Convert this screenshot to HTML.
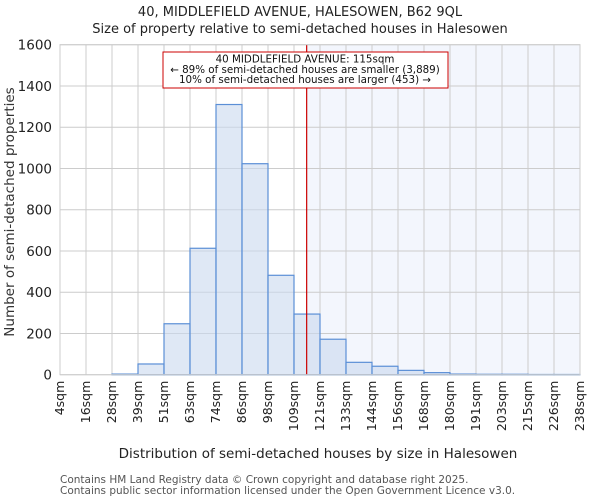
<!DOCTYPE html>
<html><head><meta charset="utf-8"><style>
body{margin:0;background:#fff;font-family:"DejaVu Sans","Liberation Sans",sans-serif}
</style></head><body>
<svg width="600" height="500" xmlns="http://www.w3.org/2000/svg" font-family="DejaVu Sans, Liberation Sans, sans-serif">
<text x="300" y="16" text-anchor="middle" font-size="13" fill="#222">40, MIDDLEFIELD AVENUE, HALESOWEN, B62 9QL</text>
<text x="300" y="33" text-anchor="middle" font-size="13" fill="#222">Size of property relative to semi-detached houses in Halesowen</text>
<g id="plot"></g>
<text x="318" y="458" text-anchor="middle" font-size="13.5" fill="#222">Distribution of semi-detached houses by size in Halesowen</text>
<text transform="translate(14,212) rotate(-90)" text-anchor="middle" font-size="13.5" fill="#333">Number of semi-detached properties</text>
<text x="60" y="483" font-size="10.5" fill="#555">Contains HM Land Registry data © Crown copyright and database right 2025.</text>
<text x="60" y="494" font-size="10.5" fill="#555">Contains public sector information licensed under the Open Government Licence v3.0.</text>
</svg>
<script>
const binEdges=[4,16,28,39,51,63,74,86,98,109,121,133,144,156,168,180,191,203,215,226,238];
const tickLabels=["4sqm","16sqm","28sqm","39sqm","51sqm","63sqm","74sqm","86sqm","98sqm","109sqm","121sqm","133sqm","144sqm","156sqm","168sqm","180sqm","191sqm","203sqm","215sqm","226sqm","238sqm"];
const counts=[0,0,3,52,247,613,1310,1023,482,294,172,60,41,21,10,3,2,2,1,1];
const yTicks=[0,200,400,600,800,1000,1200,1400,1600];
const propertySize=115;
const NS="http://www.w3.org/2000/svg";
const L=60,R=580,T=44.7,B=374.7,xmin=4,xmax=238,ymax=1600;
const xs=v=>L+(v-xmin)/(xmax-xmin)*(R-L);
const ys=v=>B-v/ymax*(B-T);
const g=document.getElementById('plot');
function mk(t,a){const e=document.createElementNS(NS,t);for(const k in a)e.setAttribute(k,a[k]);g.appendChild(e);return e;}
let e=mk('rect',{x:xs(propertySize),y:T,width:R-xs(propertySize),height:B-T,fill:'#f3f6fd'});


for(let i=0;i<binEdges.length;i++){const x=L+i*(R-L)/(binEdges.length-1);
e=mk('line',{x1:x,x2:x,y1:T,y2:B,stroke:'#ccc','stroke-width':1});

}
yTicks.forEach(v=>{e=mk('line',{x1:L,x2:R,y1:ys(v),y2:ys(v),stroke:'#ccc','stroke-width':1});


e=mk('text',{x:L-8,y:ys(v)+5,'text-anchor':'end','font-size':'13.5',fill:'#222'});e.textContent=v;

});
const bw=(R-L)/counts.length;
counts.forEach((c,i)=>{const x=L+i*bw;
e=mk('rect',{x:x,y:ys(c),width:bw,height:B-ys(c),fill:'#c9d8ef','fill-opacity':0.6,stroke:'#5b8fd6','stroke-width':1.2});

});
tickLabels.forEach((t,i)=>{const x=L+i*bw;
e=mk('text',{transform:`translate(${x+4},${B+6}) rotate(-90)`,'text-anchor':'end','font-size':'12.5',fill:'#222'});e.textContent=t;

});
e=mk('line',{x1:xs(propertySize),x2:xs(propertySize),y1:T,y2:B,stroke:'#cc0000','stroke-width':1.2});


e=mk('rect',{x:163,y:52,width:285,height:36,fill:'#fff',stroke:'#cc0000','stroke-width':1});


["40 MIDDLEFIELD AVENUE: 115sqm","← 89% of semi-detached houses are smaller (3,889)","10% of semi-detached houses are larger (453) →"].forEach((t,i)=>{
e=mk('text',{x:305,y:62.5+i*10.3,'text-anchor':'middle','font-size':'10.3',fill:'#111'});e.textContent=t;

});
e=mk('rect',{x:L,y:T,width:R-L,height:B-T,fill:'none',stroke:'#ccc','stroke-width':1});


</script>
</body></html>
